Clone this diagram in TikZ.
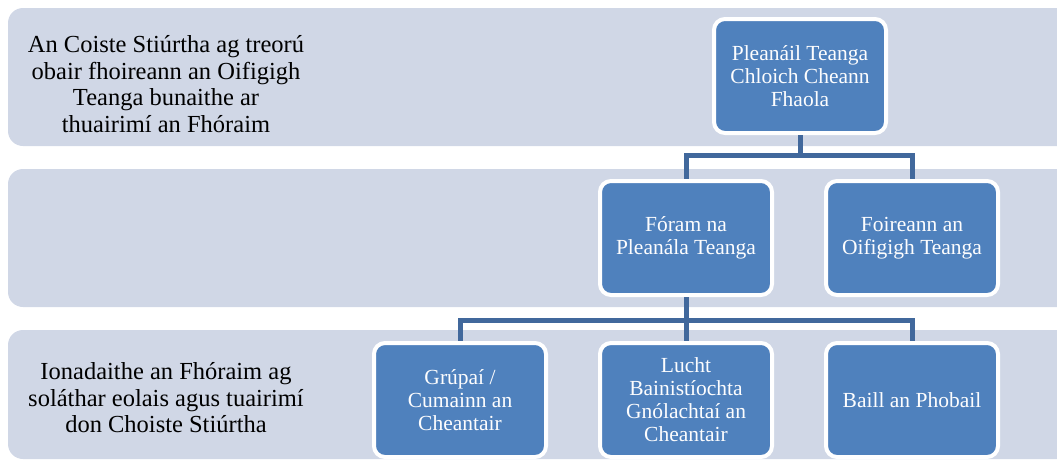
\documentclass[tikz,border=0pt]{standalone}
\usepackage{fontspec}
\setmainfont{Liberation Serif}
\usepackage{xcolor}
\definecolor{Band Grey}{HTML}{D0D7E6}
\definecolor{Box Blue}{HTML}{4F81BD}
\definecolor{Link Blue}{HTML}{41689C}
\colorlet{cBand}{Band Grey}
\colorlet{cBox}{Box Blue}
\colorlet{cLink}{Link Blue}
\usepackage{tikz}
\usetikzlibrary{calc, positioning}
\tikzset{
	x=1pt,
	y=-1pt,
	band/.style={
		fill=cBand,
		rounded corners=15pt
	},
	unit/.style={
		draw=white,
		fill=cBox,
		line width=4pt,
		rounded corners=11pt,
		minimum width=172pt,
		minimum height=114pt,
		align=center,
		text=white!95!cBand,
		font=\fontsize{21.5}{23}\selectfont
	},
	note/.style={
		align=center,
		font=\fontsize{24.5}{26.5}\selectfont
	},
	link/.style={
		draw=cLink,
		line width=5pt
	}
}

\begin{document}
\begin{tikzpicture}
\useasboundingbox (0,0) rectangle (1057,461);
\clip (0,0) rectangle (1057,461);
% ---
% bands
% ---
\fill[band] (8,8) rectangle (1090,146);
\fill[band] (8,169) rectangle (1090,307);
\fill[band] (8,330) rectangle (1090,459);

\node[note] at (166,84) (n-top) {An Coiste Stiúrtha ag treorú\\obair fhoireann an Oifigigh\\Teanga bunaithe ar\\thuairimí an Fhóraim};
\node[note] at (166,398) (n-bot) {Ionadaithe an Fhóraim ag\\soláthar eolais agus tuairimí\\don Choiste Stiúrtha};

% ---
% units
% ---
\node[unit] at (800,76) (u-0) {Pleanáil Teanga\\Chloich Cheann\\Fhaola};
\node[unit] at (686,238) (u-1) {Fóram na\\Pleanála Teanga};
\node[unit] at (912,238) (u-2) {Foireann an\\Oifigigh Teanga};
\node[unit] at (460,400) (u-3) {Grúpaí /\\Cumainn an\\Cheantair};
\node[unit] at (686,400) (u-4) {Lucht\\Bainistíochta\\Gnólachtaí an\\Cheantair};
\node[unit] at (912,400) (u-5) {Baill an Phobail};

% ---
% connectors
% ---
\draw[link] (u-0.south) -- ++(0,20) -| (u-1.north);
\draw[link] (u-0.south) -- ++(0,20) -| (u-2.north);
\draw[link] (u-1.south) -- (u-4.north);
\draw[link] (u-1.south) -- ++(0,23) -| (u-3.north);
\draw[link] (u-1.south) -- ++(0,23) -| (u-5.north);
\end{tikzpicture}
\end{document}
